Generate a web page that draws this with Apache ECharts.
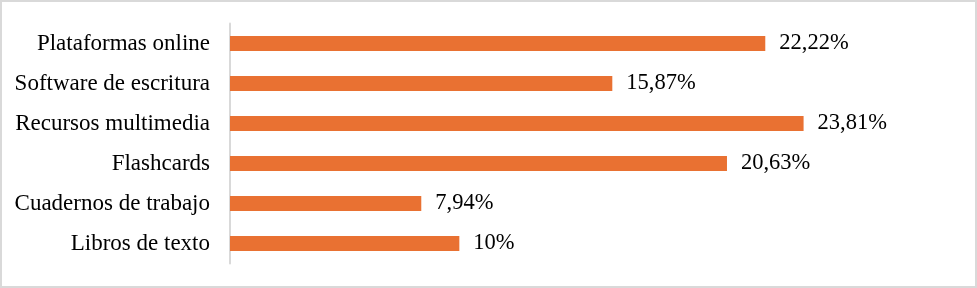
<!DOCTYPE html>
<html>
<head>
<meta charset="utf-8">
<script src="https://cdn.jsdelivr.net/npm/echarts@6/dist/echarts.min.js"></script>
<style>
html,body{margin:0;padding:0;background:#fff;}
#chart{width:977px;height:288px;}
</style>
</head>
<body>
<div id="chart"></div>
<script>
const categories = ["Plataformas online", "Software de escritura", "Recursos multimedia", "Flashcards", "Cuadernos de trabajo", "Libros de texto"];
const values = [22.22, 15.87, 23.81, 20.63, 7.94, 9.52];
const valueLabels = ["22,22%", "15,87%", "23,81%", "20,63%", "7,94%", "10%"];

const chart = echarts.init(document.getElementById('chart'), null, {renderer: 'canvas'});
const font = '"Liberation Serif", "Times New Roman", serif';
chart.setOption({
  animation: false,
  backgroundColor: '#ffffff',
  graphic: [{
    type: 'rect',
    shape: {x: 1, y: 1, width: 975, height: 286},
    style: {fill: 'none', stroke: '#d9d9d9', lineWidth: 2},
    silent: true
  }],
  grid: {left: 230, top: 23.5, height: 240, width: 722.7, containLabel: false},
  xAxis: {
    type: 'value', min: 0, max: 30, show: false
  },
  yAxis: {
    type: 'category',
    data: categories,
    inverse: true,
    offset: 1,
    axisLine: {show: true, lineStyle: {color: '#d9d9d9', width: 2}},
    axisTick: {show: false},
    splitLine: {show: false},
    axisLabel: {color: '#000', fontFamily: font, fontSize: 23, margin: 19}
  },
  series: [{
    type: 'bar',
    data: values,
    barWidth: 15,
    itemStyle: {color: '#E97132'},
    label: {
      show: true,
      position: 'right',
      distance: 14,
      color: '#000',
      fontFamily: font,
      fontSize: 22.5,
      formatter: p => valueLabels[p.dataIndex]
    }
  }]
});
</script>
</body>
</html>
